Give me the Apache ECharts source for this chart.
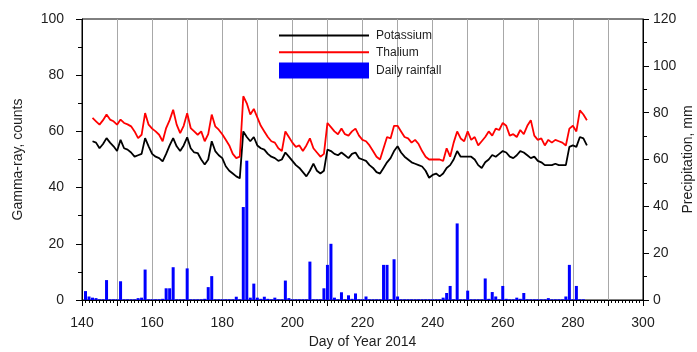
<!DOCTYPE html>
<html>
<head>
<meta charset="utf-8">
<script src="https://cdn.jsdelivr.net/npm/echarts@6/dist/echarts.min.js"></script>
<style>
  html, body { margin: 0; padding: 0; background: #fff; }
  #chart { width: 697px; height: 352px; }
</style>
</head>
<body>
<div id="chart"></div>
<script>
// daily series, first value belongs to the start day
const lineStartDay = 143
const rainStartDay = 141

const potassium = [
  56.5, 56, 54, 55.5, 57.6, 56, 54.7, 53,
  57, 54, 53.5, 52.5, 51, 51.5, 52, 57.6, 54.7, 52,
  51, 50.5, 49.3, 52, 55, 57.6, 54.7, 53, 55, 57.9,
  54, 52.5, 52.3, 50, 48.2, 50, 56.5, 53, 51.5, 50.5,
  47.6, 46, 45, 44, 43.3, 60, 58, 56.5, 58, 55,
  54, 53.5, 52, 51, 50.5, 49.5, 50, 52.5, 51, 49.5,
  48, 47, 45.5, 44, 46, 48.5, 46, 45, 46, 53.5,
  53, 52, 51.5, 52.5, 51.5, 50.5, 52, 52.5, 50.5, 50,
  49.5, 48, 47, 45.5, 45, 47, 49, 50.5, 53, 54.7,
  52.5, 51, 50, 49, 48.5, 48, 47.5, 46, 43.5, 44.5,
  45, 44, 45, 47, 48, 50, 53, 51, 51, 51,
  51, 50, 48, 47, 49, 50, 51.6, 51, 52, 53,
  52.5, 51, 50.5, 51.5, 53, 52.5, 51.5, 50.5, 51, 49.5,
  49, 48, 48, 48, 48.5, 48, 48, 48, 54.5, 55,
  54.5, 58, 57.5, 55
]

const thallium = [
  64.8, 63.6, 62.4, 64, 66, 64.2, 63.6, 62.4,
  64.2, 63, 62.5, 61.8, 60, 57.6, 58.8, 66.5, 62.4, 61,
  60, 58.8, 56.5, 61.2, 64, 67.7, 62.4, 59.4, 62, 66.5,
  61.2, 60, 58.8, 60, 56.5, 59, 66, 61.8, 60.6, 59,
  57, 55, 52, 50.5, 51, 72.5, 70, 66, 68, 65,
  62, 60, 58, 56.5, 56, 54, 53, 60, 58, 56,
  54.5, 55, 53, 55, 57.5, 54, 52.5, 51, 52, 63,
  61.5, 60, 59, 61, 59, 58.5, 60, 61, 58.5, 57,
  56.5, 55, 53, 51, 50, 54, 58, 57.5, 62, 62,
  60, 58, 57.5, 56, 57, 55.5, 53, 51, 50, 50,
  50, 50, 49.5, 54, 51, 56, 60, 57.5, 56.5, 60,
  57, 58, 55, 56.5, 58, 60, 58.5, 61, 60.5, 63,
  62, 58.5, 59, 58, 60.5, 59, 62, 64, 58.5, 57,
  57.5, 55, 57, 56, 57, 56.5, 56, 55, 61, 62,
  60, 67.5, 66, 64
]

const rainfall = [
  3.8, 1.5, 1, 0.8, 0.3, 0.3, 8.5, 0.3, 0.3, 0.3,
  8, 0.3, 0.3, 0.3, 0.3, 0.8, 1, 13, 0.3, 0.3,
  0.3, 0.3, 0.5, 5, 5, 14, 0.3, 0.3, 0.3, 13.5,
  0.3, 0.3, 0.3, 0.3, 0.5, 5.5, 10.2, 0.3, 0.3, 0.3,
  0.3, 0.3, 0.3, 1.4, 0.3, 39.7, 59.5, 1, 7, 1,
  0.5, 1.4, 0.5, 0.3, 1, 0.3, 0.3, 8.3, 0.8, 0.3,
  0.3, 0.3, 0.3, 0.3, 16.4, 0.3, 0.3, 0.3, 5, 15,
  24, 1, 0.3, 3.3, 0.3, 2, 0.5, 2.8, 0.3, 0.3,
  1.5, 0.3, 0.3, 0.3, 0.3, 15, 15, 0.3, 17.4, 1.5,
  0.3, 0.3, 0.3, 0.3, 0.3, 0.3, 0.3, 0.3, 0.3, 0.3,
  0.3, 0.3, 1, 3, 6, 0.3, 32.7, 0.3, 0.3, 4,
  0.3, 0.3, 0.3, 0.3, 9.2, 0.5, 3.4, 1.5, 0.3, 6,
  0.5, 0.3, 0.3, 1, 0.5, 3, 0.3, 0.3, 0.3, 0.3,
  0.3, 0.3, 0.8, 0.3, 0.3, 0.3, 0.3, 1.5, 15, 0.3,
  6, 0.3, 0.3
]

const toPairs = (start, vals) => vals.map((v, i) => [start + i, v])

const textColor = '#1e1e1e'
const font = 'Liberation Sans, Arial, sans-serif'

const chartInstance = echarts.init(document.getElementById('chart'))

const option = {
  animation: false,
  textStyle: { fontFamily: font, color: textColor },
  grid: {
    left: 82, right: 54, top: 19, bottom: 52,
    containLabel: false,
    outerBoundsMode: 'none',
    show: true, borderColor: '#000', borderWidth: 1
  },
  legend: {
    orient: 'vertical',
    left: 278,
    top: 29,
    padding: 0,
    itemWidth: 90,
    itemHeight: 16,
    itemGap: 4,
    textStyle: { fontSize: 12, color: textColor, fontFamily: font, padding: [0, 0, 0, 2] },
    data: [
      { name: 'Potassium', itemStyle: { opacity: 0 } },
      { name: 'Thalium', itemStyle: { opacity: 0 } },
      { name: 'Daily rainfall', icon: 'rect' }
    ]
  },
  xAxis: {
    type: 'value',
    min: 140,
    max: 300,
    interval: 10,
    name: 'Day of Year 2014',
    nameLocation: 'middle',
    nameGap: 35,
    nameMoveOverlap: false,
    nameTextStyle: { fontSize: 14, color: textColor },
    axisLine: { lineStyle: { color: '#000', width: 1 } },
    axisTick: { length: 6, lineStyle: { color: '#000' } },
    minorTick: { show: true, splitNumber: 10, length: 3, lineStyle: { color: '#000' } },
    axisLabel: {
      fontSize: 14,
      color: textColor,
      margin: 16,
      formatter: (v) => (v % 20 === 0 ? String(v) : '')
    },
    splitLine: { show: true, lineStyle: { color: '#a8a8a8', width: 1 } }
  },
  yAxis: [
    {
      type: 'value',
      min: 0,
      max: 100,
      interval: 20,
      name: 'Gamma-ray, counts',
      nameLocation: 'middle',
      nameRotate: 90,
      nameGap: 57,
      nameMoveOverlap: false,
      nameTextStyle: { fontSize: 14, color: textColor },
      axisLine: { show: true, lineStyle: { color: '#000' } },
      axisTick: { show: true, length: 6, lineStyle: { color: '#000' } },
      minorTick: { show: true, splitNumber: 2, length: 4, lineStyle: { color: '#000' } },
      axisLabel: { fontSize: 14, color: textColor, margin: 18 },
      splitLine: { show: false }
    },
    {
      type: 'value',
      min: 0,
      max: 120,
      interval: 20,
      position: 'right',
      name: 'Precipitation, mm',
      nameLocation: 'middle',
      nameRotate: 90,
      nameGap: 38,
      nameMoveOverlap: false,
      nameTextStyle: { fontSize: 14, color: textColor },
      axisLine: { show: true, lineStyle: { color: '#000' } },
      axisTick: { show: true, length: 6, lineStyle: { color: '#000' } },
      minorTick: { show: true, splitNumber: 2, length: 4, lineStyle: { color: '#000' } },
      axisLabel: { fontSize: 14, color: textColor, margin: 10 },
      splitLine: { show: false }
    }
  ],
  series: [
    {
      name: 'Daily rainfall',
      type: 'bar',
      yAxisIndex: 1,
      barWidth: 3,
      itemStyle: { color: '#0000ff' },
      z: 1,
      data: toPairs(rainStartDay, rainfall)
    },
    {
      name: 'Potassium',
      type: 'line',
      symbol: 'none',
      lineStyle: { color: '#000', width: 1.8 },
      itemStyle: { color: '#000' },
      z: 3,
      data: toPairs(lineStartDay, potassium)
    },
    {
      name: 'Thalium',
      type: 'line',
      symbol: 'none',
      lineStyle: { color: '#ff0000', width: 1.8 },
      itemStyle: { color: '#ff0000' },
      z: 4,
      data: toPairs(lineStartDay, thallium)
    }
  ]
}

chartInstance.setOption(option)
</script>
</body>
</html>
